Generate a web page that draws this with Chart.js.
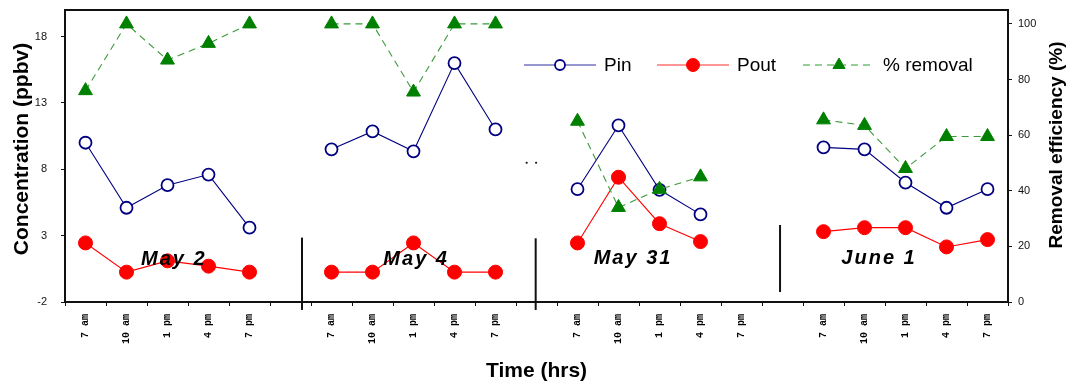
<!DOCTYPE html>
<html><head><meta charset="utf-8">
<script src="https://cdn.jsdelivr.net/npm/chart.js@4/dist/chart.umd.min.js"></script>
<style>html,body{margin:0;padding:0;background:#fff;}#wrap{width:1072px;height:387px;}</style>
</head><body><div id="wrap"><canvas id="c" width="1072" height="387"></canvas></div>
<script>
// ---- data ----
const categories = ['7 am','10 am','1 pm','4 pm','7 pm','',
                    '7 am','10 am','1 pm','4 pm','7 pm','',
                    '7 am','10 am','1 pm','4 pm','7 pm','',
                    '7 am','10 am','1 pm','4 pm','7 pm'];
const pinValues = [10.0,5.1,6.8,7.6,3.6,null,
                   9.5,10.85,9.35,16.0,11.0,null,
                   6.5,11.3,6.45,4.6,null,null,
                   9.65,9.5,7.0,5.1,6.5];
const poutValues = [2.45,0.25,1.1,0.7,0.25,null,
                    0.25,0.25,2.45,0.25,0.25,null,
                    2.45,7.4,3.9,2.55,null,null,
                    3.3,3.6,3.6,2.15,2.7];
const removalValues = [76,100,87,93,100,null,
                       100,100,75.5,100,100,null,
                       65,34,40.5,45,null,null,
                       65.5,63.5,48,59.5,59.5];
const concTicks = [-2,3,8,13,18];
const removalTicks = [0,20,40,60,80,100];
const dayLabels = ['May 2','May 4','May 31','June 1'];
const seriesNames = ['Pin','Pout','% removal'];
const leftTitle = 'Concentration (ppbv)';
const rightTitle = 'Removal efficiency (%)';
const bottomTitle = 'Time (hrs)';

const FONT = "'Liberation Sans', Arial, sans-serif";

// decoration layout (in data units of the axes)
const dayPos = [{x:2.13,y:1.17},{x:8.04,y:1.17},{x:13.33,y:1.25},{x:19.33,y:1.25}];
const separators = [{x:5.28,y1:2.85,y2:-2.6},{x:10.98,y1:2.8,y2:-2.6},{x:16.94,y1:3.8,y2:-1.25}];
const dots = [{x:10.76,y:8.49},{x:10.99,y:8.49}];

const styles = [
  {line:'#000080', legendLine:'rgba(70,70,170,0.75)', dash:[], marker:'circle', r:6, fill:'#fff', stroke:'#000080', bw:1.8, lr:5},
  {line:'#ff0000', legendLine:'rgba(255,90,90,0.85)', dash:[], marker:'circle', r:7, fill:'#ff0000', stroke:'#ff0000', bw:1, lr:6.5},
  {line:'#3a9a3a', legendLine:'rgba(90,180,90,0.85)', dash:[7,5], marker:'triangle', r:8, fill:'#008000', stroke:'#008000', bw:1, lr:7}
];

function drawMarker(ctx, s, x, y, r){
  ctx.save();
  ctx.setLineDash([]);
  ctx.beginPath();
  if (s.marker==='circle'){ ctx.arc(x,y,r,0,Math.PI*2); }
  else { ctx.moveTo(x, y-r); ctx.lineTo(x+r*0.866, y+r*0.5); ctx.lineTo(x-r*0.866, y+r*0.5); ctx.closePath(); }
  ctx.fillStyle = s.fill; ctx.fill();
  ctx.lineWidth = s.bw; ctx.strokeStyle = s.stroke; ctx.stroke();
  ctx.restore();
}

const decor = {
  id:'decor',
  afterDraw(chart){
    const ctx = chart.ctx, a = chart.chartArea;
    const xs = chart.scales.x, ys = chart.scales.y;
    ctx.save();
    // frame
    ctx.strokeStyle = '#111'; ctx.lineWidth = 2;
    ctx.strokeRect(a.left, a.top, a.right-a.left, a.bottom-a.top);
    // separators
    separators.forEach(s=>{
      const px = xs.getPixelForValue(s.x);
      ctx.beginPath(); ctx.moveTo(px, ys.getPixelForValue(s.y1)); ctx.lineTo(px, ys.getPixelForValue(s.y2)); ctx.stroke();
    });
    // dots
    ctx.fillStyle = '#111';
    dots.forEach(d=>{ ctx.beginPath(); ctx.arc(xs.getPixelForValue(d.x), ys.getPixelForValue(d.y), 1.1, 0, Math.PI*2); ctx.fill(); });
    // day labels
    ctx.font = 'italic bold 20px ' + FONT;
    ctx.letterSpacing = '2px';
    ctx.textAlign = 'center'; ctx.textBaseline = 'middle'; ctx.fillStyle = '#000';
    dayLabels.forEach((t,i)=>{ ctx.fillText(t, xs.getPixelForValue(dayPos[i].x)+1, ys.getPixelForValue(dayPos[i].y)); });
    ctx.letterSpacing = '0px';
    // legend
    const ly = a.top + 55;
    const lx = [a.left+459, a.left+592, a.left+738];
    ctx.font = '19px ' + FONT; ctx.textAlign = 'left'; ctx.textBaseline = 'middle';
    seriesNames.forEach((n,i)=>{
      const s = styles[i];
      ctx.save();
      ctx.strokeStyle = s.legendLine; ctx.lineWidth = 1.6; ctx.setLineDash(s.dash);
      ctx.beginPath(); ctx.moveTo(lx[i], ly); ctx.lineTo(lx[i]+72, ly); ctx.stroke();
      ctx.restore();
      drawMarker(ctx, s, lx[i]+36, ly, s.lr);
      ctx.fillStyle = '#000';
      ctx.fillText(n, lx[i]+80, ly+1);
    });
    // y titles
    ctx.font = 'bold 21px ' + FONT; ctx.textAlign = 'center'; ctx.textBaseline = 'middle';
    ctx.save(); ctx.translate(22, 149); ctx.rotate(-Math.PI/2); ctx.fillText(leftTitle, 0, 0); ctx.restore();
    ctx.font = 'bold 19px ' + FONT;
    ctx.save(); ctx.translate(1057, 145); ctx.rotate(-Math.PI/2); ctx.fillText(rightTitle, 0, 0); ctx.restore();
    ctx.restore();
  }
};

function ds(label, data, i, axis){
  const s = styles[i];
  return {
    label, data, yAxisID: axis,
    borderColor: s.line, borderWidth: 1.1, borderDash: s.dash,
    pointStyle: s.marker, pointRadius: s.r, pointHoverRadius: s.r,
    pointBackgroundColor: s.fill, pointBorderColor: s.stroke, pointBorderWidth: s.bw,
    tension: 0, spanGaps: false, fill: false
  };
}

function noPad(s){ s.paddingTop = 0; s.paddingBottom = 0; s.paddingLeft = 0; s.paddingRight = 0; }

new Chart(document.getElementById('c'), {
  type:'line',
  data:{
    labels: categories,
    datasets:[
      ds(seriesNames[2], removalValues, 2, 'y2'),
      ds(seriesNames[0], pinValues, 0, 'y'),
      ds(seriesNames[1], poutValues, 1, 'y')
    ]
  },
  options:{
    responsive:false, animation:false, devicePixelRatio:1,
    layout:{padding:{top:10,left:0,right:0,bottom:0}},
    plugins:{legend:{display:false}, tooltip:{enabled:false}},
    scales:{
      x:{
        type:'category', offset:true,
        grid:{display:true, drawOnChartArea:false, offset:true, tickLength:4, color:'#111', tickWidth:1},
        border:{display:true, color:'#111', width:2},
        ticks:{autoSkip:false, maxRotation:90, minRotation:90, padding:8, color:'#000',
               font:{family:"'Liberation Mono', monospace", size:10, weight:'bold'}},
        title:{display:true, text:bottomTitle, color:'#000', font:{family:FONT, size:21, weight:'bold'}, padding:{top:0,bottom:3}},
        afterFit(s){ s.height = 85; noPad(s); }
      },
      y:{
        position:'left', min:-2, max:20,
        grid:{display:true, drawOnChartArea:false, tickLength:4, color:'#111'},
        border:{display:true, color:'#111', width:2},
        ticks:{padding:14, color:'#111', font:{family:FONT, size:11}},
        afterBuildTicks(s){ s.ticks = concTicks.map(v=>({value:v})); },
        afterFit(s){ s.width = 65; noPad(s); }
      },
      y2:{
        position:'right', min:0, max:105,
        grid:{display:true, drawOnChartArea:false, tickLength:4, color:'#111'},
        border:{display:true, color:'#111', width:2},
        ticks:{padding:6, color:'#111', font:{family:FONT, size:11}},
        afterBuildTicks(s){ s.ticks = removalTicks.map(v=>({value:v})); },
        afterFit(s){ s.width = 64; noPad(s); }
      }
    }
  },
  plugins:[decor]
});
</script></body></html>
